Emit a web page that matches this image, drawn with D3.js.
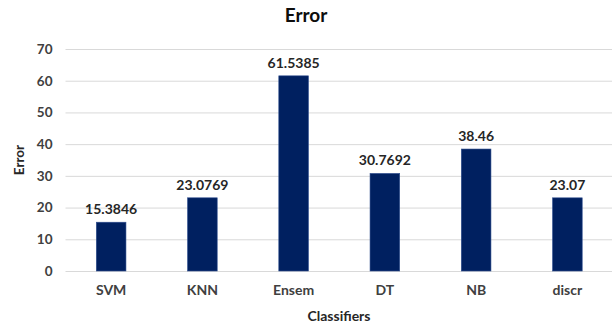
<!DOCTYPE html>
<html>
<head>
<meta charset="utf-8">
<script src="https://cdn.jsdelivr.net/npm/d3@7"></script>
<style>
  html, body { margin: 0; padding: 0; background: #fff; }
  svg { display: block; font-family: Lato, "Open Sans", sans-serif; }
</style>
</head>
<body>
<svg id="chart" width="612" height="328"></svg>
<script>
// Classifier error rates
const classifiers = ["SVM", "KNN", "Ensem", "DT", "NB", "discr"];
const errorValues = [15.3846, 23.0769, 61.5385, 30.7692, 38.46, 23.07];
const valueLabels = ["15.3846", "23.0769", "61.5385", "30.7692", "38.46", "23.07"];
const yTicks = [0, 10, 20, 30, 40, 50, 60, 70];

const svg = d3.select("#chart");
const margin = { left: 65.5, right: -1, top: 49, bottom: 57 };
const W = 612, H = 328;

const x = d3.scaleBand()
  .domain(classifiers)
  .range([margin.left, W - margin.right])
  .paddingInner(0.675)
  .paddingOuter(0.3375);

const y = d3.scaleLinear()
  .domain([0, 70])
  .range([H - margin.bottom, margin.top]);

// Gridlines
svg.append("g")
  .selectAll("line")
  .data(yTicks)
  .join("line")
  .attr("x1", margin.left)
  .attr("x2", W)
  .attr("y1", d => y(d) + 0.5)
  .attr("y2", d => y(d) + 0.5)
  .attr("stroke", "#d9d9d9")
  .attr("stroke-width", 1);

// Y axis tick labels
const yAxis = d3.axisLeft(y).tickValues(yTicks).tickSize(0).tickPadding(0);
svg.append("g")
  .attr("transform", `translate(${margin.left - 13},0)`)
  .call(yAxis)
  .call(g => g.select(".domain").remove())
  .call(g => g.selectAll("text")
    .attr("font-family", "Lato, 'Open Sans', sans-serif")
    .attr("font-size", 13.5)
    .attr("font-weight", "bold")
    .attr("fill", "#404040"));

// X axis category labels
const xAxis = d3.axisBottom(x).tickSize(0).tickPadding(0);
svg.append("g")
  .attr("transform", `translate(0,${y(0) + 14})`)
  .call(xAxis)
  .call(g => g.select(".domain").remove())
  .call(g => g.selectAll("text")
    .attr("font-family", "Lato, 'Open Sans', sans-serif")
    .attr("font-size", 14)
    .attr("font-weight", "bold")
    .attr("fill", "#404040"));

// Bars
svg.append("g")
  .selectAll("rect")
  .data(classifiers)
  .join("rect")
  .attr("x", d => x(d))
  .attr("y", (d, i) => y(errorValues[i]))
  .attr("width", x.bandwidth())
  .attr("height", (d, i) => y(0) - y(errorValues[i]))
  .attr("fill", "#002060")
  .attr("stroke", "#2f4f8f")
  .attr("stroke-width", 0.6);

// Value labels
svg.append("g")
  .selectAll("text")
  .data(classifiers)
  .join("text")
  .attr("x", d => x(d) + x.bandwidth() / 2)
  .attr("y", (d, i) => y(errorValues[i]) - 8)
  .attr("text-anchor", "middle")
  .attr("font-size", 14)
  .attr("font-weight", "bold")
  .attr("fill", "#262626")
  .text((d, i) => valueLabels[i]);

// Chart title
svg.append("text")
  .attr("x", 306)
  .attr("y", 22)
  .attr("text-anchor", "middle")
  .attr("font-size", 19)
  .attr("font-weight", "bold")
  .attr("fill", "#0d0d0d")
  .text("Error");

// Axis titles
svg.append("text")
  .attr("transform", `translate(24,${(y(0) + y(70)) / 2}) rotate(-90)`)
  .attr("text-anchor", "middle")
  .attr("font-size", 13.5)
  .attr("font-weight", "bold")
  .attr("fill", "#262626")
  .text("Error");

svg.append("text")
  .attr("x", 339)
  .attr("y", 321)
  .attr("text-anchor", "middle")
  .attr("font-size", 14)
  .attr("font-weight", "bold")
  .attr("fill", "#262626")
  .text("Classifiers");
</script>
</body>
</html>
